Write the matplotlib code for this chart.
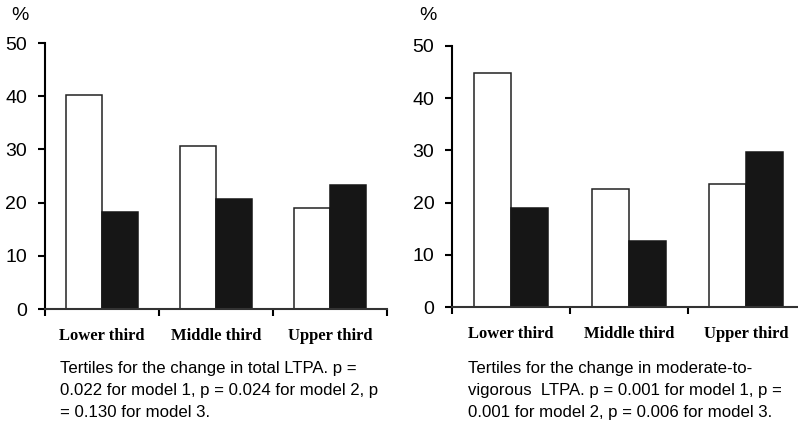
import numpy as np
import matplotlib
matplotlib.use("Agg")
import matplotlib.pyplot as plt

# tertile groups and prevalence (%) per panel
categories = ["Lower third", "Middle third", "Upper third"]
total_open = [40.2, 30.6, 19.0]
total_filled = [18.2, 20.7, 23.3]
mvpa_open = [44.9, 22.7, 23.6]
mvpa_filled = [19.0, 12.7, 29.7]

captions = [
    "Tertiles for the change in total LTPA. p =\n"
    "0.022 for model 1, p = 0.024 for model 2, p\n"
    "= 0.130 for model 3.",
    "Tertiles for the change in moderate-to-\n"
    "vigorous  LTPA. p = 0.001 for model 1, p =\n"
    "0.001 for model 2, p = 0.006 for model 3.",
]

W, H = 798, 425
fig = plt.figure(figsize=(W / 100, H / 100), dpi=100)


def px_axes(x0, x1, y_top, y_bot):
    return fig.add_axes([x0 / W, 1 - y_bot / H, (x1 - x0) / W, (y_bot - y_top) / H])


def draw_panel(ax, open_vals, filled_vals):
    x = np.arange(len(categories)) + 0.5
    w = 0.313
    ax.bar(x - w / 2, open_vals, w, color="white", edgecolor="#222222", linewidth=1.1)
    ax.bar(x + w / 2, filled_vals, w, color="#161616", edgecolor="#161616", linewidth=1.1)
    ax.set_xlim(0, 3)
    ax.set_ylim(0, 50)
    ax.set_yticks([0, 10, 20, 30, 40, 50])
    ax.set_xticks([0, 1, 2, 3])
    ax.set_xticklabels([])
    ax.set_xticks(x, minor=True)
    ax.set_xticklabels(categories, minor=True, fontfamily="Liberation Serif",
                       fontweight="bold", fontsize=12)
    ax.tick_params(axis="x", which="minor", length=0, pad=14)
    ax.tick_params(axis="x", which="major", direction="out", length=5, width=1.5)
    ax.tick_params(axis="y", direction="out", length=5, width=1.5, pad=8,
                   labelsize=14)
    for lab in ax.get_yticklabels():
        lab.set_fontfamily("Liberation Sans")
    for s in ("top", "right"):
        ax.spines[s].set_visible(False)
    ax.spines["left"].set_linewidth(1.5)
    ax.spines["bottom"].set_linewidth(1.5)
    ax.spines["bottom"].set_color("#333333")


ax1 = px_axes(45, 387, 43, 309)
draw_panel(ax1, total_open, total_filled)
# right panel runs past the right edge of the figure
ax2 = px_axes(452.5, 805, 46, 307)
draw_panel(ax2, mvpa_open, mvpa_filled)

for xpos in (20, 428):
    fig.text(xpos / W, 1 - 15 / H, "%", ha="center", va="center",
             fontfamily="Liberation Sans", fontsize=14)

for xpos, txt in zip([60, 468], captions):
    fig.text(xpos / W, 1 - 361 / H, txt, ha="left", va="top",
             fontfamily="Liberation Sans", fontsize=12.1,
             linespacing=1.58)

fig.savefig("out.png", dpi=100, facecolor="white")
